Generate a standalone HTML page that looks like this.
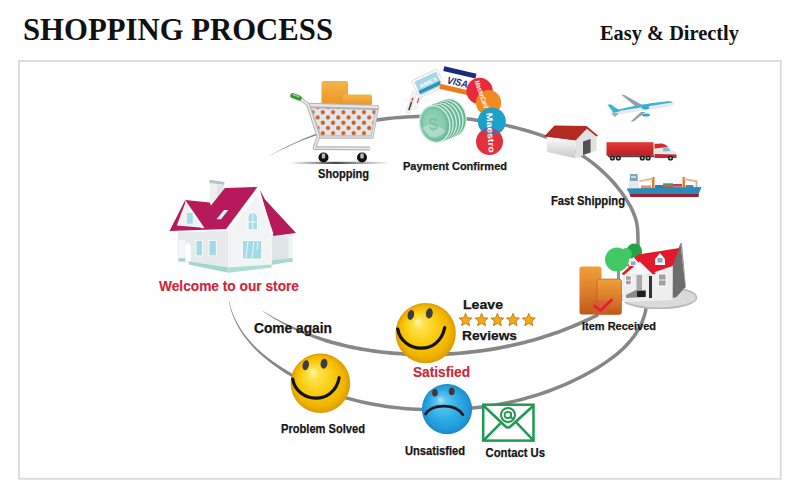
<!DOCTYPE html>
<html><head><meta charset="utf-8">
<style>
html,body{margin:0;padding:0;background:#fff;width:800px;height:482px;overflow:hidden}
svg{position:absolute;left:0;top:0}
.t{font-family:"Liberation Sans",sans-serif;font-weight:700}
.s{font-family:"Liberation Serif",serif;font-weight:700}
</style></head><body>
<svg width="800" height="482" viewBox="0 0 800 482">
<defs>
<radialGradient id="gy" cx="0.5" cy="0.5" r="0.5" fx="0.36" fy="0.3">
<stop offset="0" stop-color="#fff6b8"/>
<stop offset="0.18" stop-color="#ffe24a"/>
<stop offset="0.55" stop-color="#f9cb0e"/>
<stop offset="0.85" stop-color="#f0b300"/>
<stop offset="1" stop-color="#dd9a00"/>
</radialGradient>
<radialGradient id="gb" cx="0.5" cy="0.5" r="0.5" fx="0.36" fy="0.3">
<stop offset="0" stop-color="#a8e4fa"/>
<stop offset="0.2" stop-color="#5cc4f0"/>
<stop offset="0.6" stop-color="#2eabe6"/>
<stop offset="0.9" stop-color="#1e98d4"/>
<stop offset="1" stop-color="#1588c2"/>
</radialGradient>
<path id="star" d="M0.00,-6.80 L1.82,-2.51 L6.47,-2.10 L2.95,0.96 L4.00,5.50 L0.00,3.10 L-4.00,5.50 L-2.95,0.96 L-6.47,-2.10 L-1.82,-2.51Z" stroke-linejoin="round"/>
<linearGradient id="gbox" x1="0" y1="0" x2="0" y2="1">
<stop offset="0" stop-color="#f6b54a"/><stop offset="1" stop-color="#e99522"/>
</linearGradient>
<linearGradient id="gshadow" x1="0" y1="0" x2="1" y2="0">
<stop offset="0" stop-color="#444" stop-opacity="0"/><stop offset="0.45" stop-color="#333" stop-opacity="0.9"/><stop offset="1" stop-color="#444" stop-opacity="0"/>
</linearGradient>
<pattern id="mesh" x="320.2" y="109.6" width="10.3" height="10.5" patternUnits="userSpaceOnUse">
<rect width="10.3" height="10.5" fill="#e6e6ea"/>
<circle cx="2.6" cy="2.6" r="2.1" fill="#c3632c"/>
<circle cx="7.75" cy="7.85" r="2.1" fill="#c3632c"/>
</pattern>
<linearGradient id="gwall" x1="0" y1="0" x2="0" y2="1">
<stop offset="0" stop-color="#ffffff"/><stop offset="1" stop-color="#c9c9c9"/>
</linearGradient>
<linearGradient id="gtrail" x1="0" y1="0" x2="0" y2="1">
<stop offset="0" stop-color="#e23a36"/><stop offset="1" stop-color="#b71f24"/>
</linearGradient>
<radialGradient id="gcoin" cx="0.45" cy="0.45" r="0.6">
<stop offset="0" stop-color="#9ad8bc"/><stop offset="0.7" stop-color="#80c9a9"/><stop offset="1" stop-color="#64ad8e"/>
</radialGradient>
<clipPath id="cpMred"><circle cx="489.5" cy="141.5" r="13.5"/></clipPath>
<linearGradient id="gbox2" x1="0" y1="0" x2="0" y2="1">
<stop offset="0" stop-color="#efa038"/><stop offset="0.6" stop-color="#d8782a"/><stop offset="1" stop-color="#bf5818"/>
</linearGradient>
<g id="smile">
<circle r="29.8" fill="url(#gy)"/>
<ellipse cx="-14.7" cy="-18" rx="3.2" ry="5" fill="#3c3c44" transform="rotate(12 -14.7 -18)"/>
<ellipse cx="3.6" cy="-19.5" rx="3.4" ry="5" fill="#3c3c44" transform="rotate(8 3.6 -19.5)"/>
<path d="M-27.7,-4 C-23.5,19.5 13,23.5 18.8,-5.5" fill="none" stroke="#111" stroke-width="3.2" stroke-linecap="round"/>
</g>
</defs>
<rect x="0" y="0" width="800" height="482" fill="#fff"/>
<!-- frame -->
<rect x="19" y="61" width="761.8" height="417.8" fill="none" stroke="#dcdce0" stroke-width="1.9"/>
<!-- titles -->
<text class="s" x="23" y="39.5" font-size="30.5" fill="#111" textLength="310" lengthAdjust="spacingAndGlyphs">SHOPPING PROCESS</text>
<text class="s" x="600" y="39.5" font-size="20" fill="#111" textLength="139" lengthAdjust="spacingAndGlyphs">Easy &amp; Directly</text>

<!-- curves -->
<g id="curves">
<path fill="#878787" d="M270.6,155.5 275.8,152.6 281.1,149.9 286.5,147.4 291.9,144.9 297.3,142.6 302.8,140.3 308.3,138.2 313.8,136.3 319.4,134.4 325.1,132.7 330.7,131.0 336.4,129.5 342.1,128.1 347.8,126.8 353.6,125.6 359.4,124.5 365.2,123.5 370.9,122.5 376.8,121.7 382.6,120.9 388.4,120.2 394.3,119.6 400.1,119.2 406.0,118.8 411.9,118.5 417.8,118.3 423.7,118.3 429.6,118.3 435.5,118.4 441.4,118.6 447.3,118.9 453.2,119.3 459.0,119.8 464.9,120.4 470.8,121.1 476.6,121.9 482.5,122.8 488.3,123.7 494.1,124.8 499.9,125.9 505.6,127.1 511.4,128.4 517.1,129.8 522.8,131.4 528.4,133.0 534.0,134.7 539.5,136.6 545.0,138.6 550.4,140.7 555.7,143.0 561.0,145.5 566.2,148.1 571.3,150.9 576.3,153.8 581.3,156.9 586.1,160.3 590.9,163.8 595.5,167.5 599.9,171.4 604.3,175.4 608.4,179.6 612.4,183.9 616.2,188.4 619.8,193.0 623.1,197.8 626.2,202.7 629.1,207.6 631.5,212.7 633.5,217.9 635.0,223.2 635.8,228.7 636.1,234.4 636.2,240.2 636.3,246.3 636.7,252.4 637.5,258.6 638.7,264.7 640.2,270.7 641.7,276.7 643.1,282.6 644.2,288.3 644.9,294.0 645.1,299.6 644.8,305.1 643.9,310.5 642.5,315.7 640.6,320.9 638.3,325.9 635.6,330.7 632.4,335.4 629.0,339.8 625.1,344.1 621.0,348.2 616.6,352.0 612.0,355.7 607.2,359.3 602.2,362.7 597.0,365.9 591.8,369.0 586.6,371.9 581.3,374.8 576.0,377.5 570.6,380.0 565.2,382.5 559.8,384.8 554.3,387.0 548.9,389.1 543.4,391.1 537.8,392.9 532.3,394.6 526.7,396.3 521.1,397.8 515.4,399.2 509.8,400.5 504.1,401.6 498.4,402.7 492.7,403.7 486.9,404.6 481.1,405.3 475.3,406.0 469.5,406.6 463.7,407.0 457.8,407.4 452.0,407.7 446.1,407.9 440.2,408.0 434.3,408.1 428.3,408.0 422.4,407.8 416.5,407.5 410.6,407.2 404.6,406.7 398.7,406.2 392.8,405.5 386.9,404.7 381.1,403.8 375.2,402.8 369.4,401.7 363.6,400.5 357.8,399.2 352.1,397.8 346.4,396.2 340.8,394.5 335.2,392.7 329.7,390.8 324.2,388.7 318.7,386.5 313.4,384.2 308.1,381.8 302.8,379.2 297.6,376.5 292.5,373.7 287.4,370.8 282.5,367.8 277.5,364.5 272.7,361.2 268.0,357.7 263.4,354.0 259.0,350.2 254.8,346.2 250.8,342.0 247.0,337.6 243.4,332.9 240.2,328.1 237.3,323.1 234.7,317.8 232.4,312.2 230.6,306.4 229.1,300.4 228.7,300.5 230.0,306.6 231.7,312.5 233.8,318.1 236.3,323.6 239.1,328.8 242.3,333.8 245.7,338.5 249.5,343.1 253.4,347.5 257.6,351.7 262.0,355.7 266.5,359.6 271.2,363.3 276.0,366.8 280.9,370.2 285.8,373.4 290.9,376.5 296.0,379.5 301.2,382.3 306.6,384.9 311.9,387.4 317.4,389.8 322.9,392.0 328.5,394.1 334.1,396.0 339.8,397.8 345.5,399.6 351.2,401.1 357.0,402.6 362.8,403.9 368.7,405.2 374.6,406.3 380.5,407.3 386.4,408.2 392.4,409.0 398.4,409.6 404.3,410.2 410.3,410.7 416.3,411.0 422.3,411.3 428.3,411.5 434.3,411.6 440.2,411.5 446.2,411.4 452.1,411.2 458.0,410.9 463.9,410.5 469.8,410.1 475.7,409.5 481.6,408.8 487.4,408.0 493.2,407.1 499.0,406.2 504.8,405.1 510.5,403.9 516.2,402.6 521.9,401.2 527.6,399.6 533.3,398.0 538.9,396.2 544.5,394.4 550.1,392.4 555.6,390.3 561.1,388.0 566.6,385.7 572.1,383.2 577.5,380.6 582.9,377.9 588.3,375.0 593.6,372.0 598.9,368.9 604.1,365.6 609.2,362.1 614.1,358.5 618.9,354.7 623.4,350.7 627.7,346.5 631.6,342.1 635.3,337.4 638.6,332.5 641.4,327.5 643.9,322.2 645.8,316.8 647.3,311.2 648.2,305.5 648.6,299.6 648.4,293.7 647.6,287.8 646.5,281.8 645.1,275.8 643.6,269.9 642.2,263.9 641.0,258.0 640.1,252.1 639.8,246.1 639.7,240.2 639.6,234.2 639.3,228.3 638.4,222.5 636.9,216.8 634.7,211.3 632.2,206.0 629.2,200.9 626.0,195.8 622.6,191.0 618.9,186.2 615.1,181.6 611.0,177.2 606.7,172.9 602.3,168.8 597.7,164.8 593.0,161.0 588.1,157.4 583.2,154.0 578.2,150.8 573.0,147.8 567.8,145.0 562.5,142.3 557.1,139.8 551.7,137.5 546.2,135.3 540.7,133.3 535.0,131.4 529.4,129.6 523.7,128.0 518.0,126.5 512.2,125.0 506.4,123.7 500.6,122.5 494.7,121.3 488.9,120.3 483.0,119.3 477.1,118.4 471.2,117.6 465.3,116.9 459.4,116.3 453.4,115.8 447.5,115.4 441.5,115.1 435.6,114.9 429.6,114.8 423.7,114.8 417.7,114.8 411.8,115.0 405.8,115.3 399.9,115.7 394.0,116.2 388.0,116.7 382.1,117.4 376.3,118.2 370.4,119.1 364.5,120.1 358.7,121.3 352.9,122.6 347.2,124.1 341.5,125.6 335.8,127.2 330.1,129.0 324.5,130.8 318.9,132.8 313.3,134.8 307.8,137.0 302.3,139.3 296.9,141.7 291.5,144.2 286.2,146.8 280.9,149.5 275.6,152.3 270.4,155.2Z"/>
<path fill="#878787" d="M263.2,311.7 266.9,314.1 270.7,316.5 274.5,318.9 278.3,321.1 282.1,323.3 286.0,325.4 290.0,327.5 293.9,329.4 297.9,331.3 301.9,333.2 306.0,334.9 310.1,336.6 314.2,338.2 318.3,339.8 322.5,341.3 326.7,342.7 330.9,343.9 335.2,345.1 339.5,346.2 343.8,347.3 348.1,348.3 352.4,349.2 356.8,350.1 361.1,350.9 365.5,351.6 369.9,352.3 374.3,353.0 378.7,353.5 383.1,354.1 387.5,354.5 392.0,354.9 396.4,355.3 400.9,355.6 405.3,355.9 409.8,356.1 414.3,356.2 418.7,356.3 423.2,356.4 427.6,356.4 432.1,356.3 436.6,356.2 441.0,356.1 445.5,355.9 450.0,355.7 454.4,355.4 458.9,355.1 463.3,354.7 467.8,354.3 472.2,353.8 476.6,353.3 481.0,352.7 485.5,352.1 489.9,351.4 494.3,350.7 498.6,349.9 503.0,349.1 507.4,348.2 511.7,347.3 516.1,346.3 520.4,345.3 524.7,344.2 529.0,343.1 533.3,341.9 537.5,340.7 541.8,339.5 546.0,338.1 550.2,336.8 554.4,335.3 558.6,333.9 562.7,332.3 566.8,330.8 570.9,329.1 575.0,327.4 579.1,325.7 583.1,323.9 587.1,322.1 591.1,320.2 595.0,318.2 599.0,316.3 597.3,313.0 593.4,314.9 589.5,316.9 585.5,318.7 581.6,320.5 577.6,322.3 573.6,324.0 569.5,325.7 565.5,327.3 561.4,328.9 557.3,330.4 553.2,331.8 549.0,333.2 544.9,334.6 540.7,335.9 536.5,337.2 532.3,338.4 528.0,339.5 523.8,340.7 519.5,341.7 515.2,342.7 510.9,343.7 506.6,344.6 502.3,345.5 498.0,346.3 493.6,347.0 489.3,347.7 484.9,348.4 480.6,349.0 476.2,349.6 471.8,350.1 467.4,350.6 463.0,351.0 458.6,351.4 454.2,351.7 449.8,352.0 445.3,352.2 440.9,352.4 436.5,352.5 432.1,352.6 427.6,352.7 423.2,352.7 418.8,352.6 414.4,352.5 409.9,352.4 405.5,352.2 401.1,351.9 396.7,351.6 392.3,351.2 387.9,350.8 383.5,350.4 379.2,349.9 374.8,349.3 370.4,348.7 366.1,348.0 361.8,347.2 357.5,346.4 353.2,345.6 348.9,344.7 344.6,343.7 340.4,342.6 336.2,341.5 332.0,340.4 327.8,339.1 323.6,337.9 319.4,336.6 315.2,335.3 311.1,333.9 307.0,332.4 302.9,330.9 298.8,329.3 294.8,327.6 290.8,325.8 286.8,324.0 282.8,322.0 278.9,320.1 275.0,318.0 271.1,315.8 267.2,313.6 263.4,311.3Z"/>
</g>



<!-- cart -->
<g id="cart">
<rect x="290" y="161.8" width="100" height="2.2" fill="url(#gshadow)"/>
<rect x="321.5" y="81" width="26.5" height="24" rx="2" fill="url(#gbox)"/>
<rect x="343" y="94.5" width="29" height="11" rx="2" fill="url(#gbox)"/>
<path d="M309,106 L376.5,108.5 L371.5,136.5 L320,136.5 Z" fill="url(#mesh)"/>
<path d="M308,104.5 L377.5,107 L372,137 L320,137 Z" fill="none" stroke="#bcbcbc" stroke-width="3.4" stroke-linejoin="round"/>
<path d="M308,104.5 L377.5,107 L372,137 L320,137 Z" fill="none" stroke="#e8e8e8" stroke-width="1.2" stroke-linejoin="round"/>
<path d="M307,105.5 L378,107.5" fill="none" stroke="#b0b0b4" stroke-width="5"/>
<path d="M307,105 L378,107" fill="none" stroke="#e4e4e8" stroke-width="2.4"/>
<path d="M300,98.5 L308,104.5 L318.5,136.5 L314.5,148 L370,148.5" fill="none" stroke="#b4b4b4" stroke-width="3.8" stroke-linejoin="round"/>
<path d="M300,98.5 L308,104.5 L318.5,136.5 L314.5,148 L370,148.5" fill="none" stroke="#ececec" stroke-width="1.6" stroke-linejoin="round"/>
<rect x="290" y="94.3" width="12" height="5.2" rx="2.6" transform="rotate(21 296 96.9)" fill="#369836"/>
<rect x="291.5" y="95" width="8" height="1.5" rx="0.7" transform="rotate(21 296 96.9)" fill="#8fd08f"/>
<circle cx="323.5" cy="157.5" r="5" fill="#111"/>
<rect x="321.8" y="153.5" width="3.4" height="5" rx="1" fill="#bbb"/>
<circle cx="362" cy="157.5" r="5" fill="#111"/>
<rect x="360.3" y="153.5" width="3.4" height="5" rx="1" fill="#bbb"/>
</g>

<!-- welcome house -->
<g id="house1">
<path d="M272,236 L290,236 L290,258.8 L272,260.5 Z" fill="#e0e5e7"/>
<path d="M271.6,260.2 L290,258.5 L290,261.7 L271.6,265 Z" fill="#a6d9d1"/>
<path d="M288.5,233 L292.5,233 L292.5,259 L288.5,259 Z" fill="#f0f2f3"/>
<path d="M288.5,258 L292.5,258 L292.5,262 L288.5,262 Z" fill="#a6d9d1"/>
<path d="M178,232 L228.5,231 L228.5,267.8 L188.7,261.8 L178,261 Z" fill="#e6eaec"/>
<path d="M188.7,261.5 L228.5,267.5 L228.5,272.8 L188.7,264.6 Z" fill="#a3d6ce"/>
<path d="M178.8,240 L185.5,240 L185.5,258.5 L178.8,258.5 Z" fill="#f4f6f7"/>
<path d="M178.8,258.3 L185.5,258.3 L185.7,261.6 L178.6,261.6 Z" fill="#a3d6ce"/>
<path d="M185.5,261 L185.5,246 Q188,239 190.7,246 L190.7,261 Z" fill="#ffffff"/>
<path d="M257.8,192 L228.5,231 L228.5,267.8 L271.6,264.8 L272,234 Z" fill="#f1f3f4"/>
<path d="M228.5,267.5 L271.6,264.5 L271.6,267.6 L228.5,272.8 Z" fill="#acddd5"/>
<path d="M209.7,183 L217.3,183 L217.3,205 L209.7,207 Z" fill="#eef1f2"/>
<path d="M217,183 L224,184 L224,195 L217,201 Z" fill="#dfe5e8"/>
<path d="M209.5,179.7 L224.5,182 L224.2,184.5 L209.5,183 Z" fill="#b9c2c6"/>
<path d="M169.5,231 L185.2,200 L209.7,202.5 L211,205.5 L224.9,188.1 L258,187 L226.6,229 Z" fill="#b71a5b"/>
<path d="M176.8,225.6 L185.2,203 L203,227.8 Z" fill="#eef2f3"/>
<path d="M185.2,200 L204.5,228 L201.5,228.3 L185.2,205 Z" fill="#f8fafa"/>
<path d="M187,213 L192.8,213 L192.8,223.6 L187,223.6 Z" fill="#a7dbe6"/>
<path d="M216.5,219.3 L224,210 L228.3,210 L221,219.3 Z" fill="#d9f0f4"/>
<path d="M260,190 L265,199.5 L296,233 L273.5,236 L272,233 Z" fill="#b71a5b"/>
<path d="M257.8,186.5 L273.5,234 L270.5,234.5 L257.8,195 L228,232 L225,230.5 Z" fill="#f8fafa"/>
<path d="M248,230 L248,216 Q252.8,208 257.5,216 L257.5,230 Z" fill="#a7dbe6" stroke="#fff" stroke-width="1"/>
<path d="M252.8,211 L252.8,230 M248,222 L257.5,222" stroke="#fff" stroke-width="0.8"/>
<rect x="242.3" y="240.4" width="19.5" height="18.7" fill="#a3dae6" stroke="#fff" stroke-width="1"/>
<path d="M248,241 L246,258 M254,241 L252,258 M258,241 L257,250" stroke="#d8f2f6" stroke-width="1.2"/>
<rect x="196" y="240.4" width="6.5" height="15.5" fill="#a3dae6" stroke="#fff" stroke-width="0.8"/>
<rect x="209" y="240.4" width="7.3" height="15.5" fill="#a3dae6" stroke="#fff" stroke-width="0.8"/>
</g>

<!-- warehouse -->
<g id="warehouse">
<path d="M546.5,135.5 L575.5,139.5 L575.5,158.2 L547.2,152 Z" fill="url(#gwall)"/>
<path d="M575.5,139.5 L586.8,128 L596.5,135 L596.5,150.5 L575.5,158.2 Z" fill="#e2e2e2"/>
<path d="M583,141.4 L590.6,139 L590.6,152.4 L583,155 Z" fill="#525252"/>
<path d="M544.5,136 L554.5,125.5 L586.5,126 L598,135.5 L596.5,136.5 L586.5,128.5 L575.5,140 Z" fill="#b52a22"/>
<path d="M544.5,136 L575.5,140 L586.5,128.5" fill="none" stroke="#8e1c16" stroke-width="0.8"/>
</g>
<!-- plane -->
<g id="plane">
<path d="M621,94.5 L624.5,95 L643,105.5 L637.5,108 Z" fill="#979fa6"/>
<path d="M610,111.5 Q640,104.5 668,101.5 Q675,101 674.5,103.5 Q672,106.5 660,108 L618,114.5 Q611,115 610,111.5 Z" fill="#e4eaef"/>
<path d="M617,109.8 Q640,104 668,101.2 Q673,101 672,102.6 L620,110.8 Z" fill="#3cb3d1"/>
<path d="M607.5,104.5 L611,104.5 L620.5,111 L613.5,113 Z" fill="#3cb3d1"/>
<path d="M611,113.5 L619,113 L615,117 Z" fill="#9aa8b0"/>
<path d="M641,112 L645.5,112 L633.5,121.5 L630.5,121.5 Z" fill="#979fa6"/>
<ellipse cx="645.5" cy="107.6" rx="3.8" ry="1.9" fill="#2fa9cf"/>
<ellipse cx="646" cy="115" rx="4" ry="1.6" fill="#2fa9cf"/>
</g>
<!-- truck -->
<g id="truck">
<rect x="606.5" y="142.2" width="47" height="13.5" fill="url(#gtrail)"/>
<rect x="608" y="155.4" width="46" height="1.8" fill="#444"/>
<path d="M654.5,144 L662,143.5 Q668,144 671,150 L676,152 L676.5,157.5 L654.5,157.5 Z" fill="#e8e8ea"/>
<path d="M654.5,144 L662,143.5 Q666,144 668,147 L654.5,148.5 Z" fill="#d22b2b"/>
<path d="M654.5,154 L676.5,154.5 L676.5,158 L654.5,158 Z" fill="#c9252a"/>
<path d="M663,148 L668,147.5 L670.5,151 L663,151.5 Z" fill="#8ab8d8"/>
<g fill="#222"><circle cx="612.4" cy="158" r="2.6"/><circle cx="618.3" cy="158" r="2.6"/><circle cx="642.3" cy="158" r="2.6"/><circle cx="648.1" cy="158" r="2.6"/><circle cx="670.5" cy="158" r="2.6"/></g>
<g fill="#ccc"><circle cx="612.4" cy="158" r="1"/><circle cx="618.3" cy="158" r="1"/><circle cx="642.3" cy="158" r="1"/><circle cx="648.1" cy="158" r="1"/><circle cx="670.5" cy="158" r="1"/></g>
</g>
<!-- ship -->
<g id="ship">
<path d="M630,174 L637.5,174 L638.5,189 L629.5,189 Z" fill="#7fa8b6"/>
<path d="M629.5,181 L638.5,181 L638.5,189 L629.5,189 Z" fill="#e8e8e8"/>
<rect x="631" y="176" width="5" height="2" fill="#c8dce4"/>
<path d="M652,177 L654.5,177 L654.5,189 L652,189 Z" fill="#e07a32"/>
<path d="M639,180.5 L653,177.5 L653,179.5 L639.5,182 Z" fill="#e9b690"/>
<path d="M682.5,177 L685,177 L685,189 L682.5,189 Z" fill="#e07a32"/>
<path d="M684,178 L697.5,180.5 L697,182.5 L684,180 Z" fill="#e9b690"/>
<path d="M695.5,181 L697.5,181 L697.5,189 L695.5,189 Z" fill="#b9b9b9"/>
<rect x="641" y="185.5" width="10" height="3.5" fill="#e3935a"/>
<rect x="655" y="185" width="8" height="4" fill="#3a78b8"/>
<rect x="663" y="183.3" width="10" height="2.6" fill="#3a9a78"/>
<rect x="663" y="185.9" width="10" height="3.1" fill="#d2502e"/>
<rect x="673" y="184" width="9" height="2.5" fill="#b84060"/>
<rect x="673" y="186.5" width="9" height="2.5" fill="#e0603a"/>
<rect x="685.5" y="185" width="8" height="4" fill="#4a88c0"/>
<path d="M626.5,188.5 L701.5,187 L698.5,194.5 L630,194.5 Z" fill="#2a8bbb"/>
<path d="M629.5,194 L699,194 L698.5,197 L630.5,197 Z" fill="#9c2030"/>
</g>

<!-- payment -->
<g id="payment">
<g transform="translate(3 2.5) rotate(-72 408 100)"><rect x="397" y="98" width="22" height="4.5" fill="#f4f4f4" stroke="#ddd" stroke-width="0.5"/><rect x="400" y="99.5" width="9" height="1.6" fill="#444"/><rect x="410" y="99.5" width="3" height="1.6" fill="#d44"/></g>
<g transform="translate(10 1) rotate(-72 408 100)"><rect x="400" y="98.5" width="14" height="3" fill="#f6f6f6" stroke="#e2e2e2" stroke-width="0.4"/><rect x="406" y="99.3" width="5" height="1.3" fill="#e05050"/></g>
<g transform="translate(1.5 1) rotate(-25 427 83)">
<rect x="413" y="73" width="28" height="19" rx="1.5" fill="#fff" stroke="#cfd8dc" stroke-width="0.8"/>
<rect x="415" y="75" width="24" height="15" fill="#a7d6e6"/>
<rect x="415" y="85" width="24" height="3.5" fill="#2b96bd"/>
<text x="418" y="83.5" font-family="Liberation Sans" font-weight="700" font-size="5.5" fill="#fff" textLength="19" lengthAdjust="spacingAndGlyphs">AMEX</text>
</g>
<g transform="translate(1 2.5) rotate(13 456 80)">
<rect x="440" y="67" width="33" height="24" fill="#fff"/>
<rect x="440" y="67" width="33" height="5" fill="#1b2c7a"/>
<rect x="440" y="85" width="33" height="5" fill="#ee7c1c"/>
<text x="446" y="83" font-family="Liberation Sans" font-weight="700" font-style="italic" font-size="10" fill="#1b2c7a" textLength="21" lengthAdjust="spacingAndGlyphs">VISA</text>
</g>
<circle cx="479.6" cy="91" r="13.2" fill="#e82a3a"/>
<circle cx="488.5" cy="102.7" r="12.6" fill="#f18a22"/>
<path d="M479.6,91 m0,0" />
<text transform="translate(474.5 81.5) rotate(70)" font-family="Liberation Sans" font-weight="700" font-style="italic" font-size="7" fill="#fff" textLength="29" lengthAdjust="spacingAndGlyphs">MasterCard</text>
<circle cx="491.8" cy="121.4" r="14" fill="#1ea1c9"/>
<circle cx="489.5" cy="141.5" r="13.5" fill="#e2303d"/>
<circle cx="491.8" cy="121.4" r="14" fill="#7b5a8c" clip-path="url(#cpMred)"/>
<text transform="translate(486.2 113) rotate(86)" font-family="Liberation Sans" font-weight="700" font-size="8.5" fill="#fff" textLength="40" lengthAdjust="spacingAndGlyphs">Maestro</text>
<!-- coins -->
<g stroke-width="1.6">
<ellipse cx="451.2" cy="117.5" rx="14.6" ry="18.3" transform="rotate(-14 451.2 117.5)" fill="#78c4a4" stroke="#d4f0e3"/>
<ellipse cx="450.0" cy="118.0" rx="14.8" ry="18.4" transform="rotate(-14 450.0 118.0)" fill="none" stroke="#5fa98b" stroke-width="1"/>
<ellipse cx="447.9" cy="118.8" rx="14.6" ry="18.3" transform="rotate(-14 447.9 118.8)" fill="#78c4a4" stroke="#d4f0e3"/>
<ellipse cx="446.7" cy="119.3" rx="14.8" ry="18.4" transform="rotate(-14 446.7 119.3)" fill="none" stroke="#5fa98b" stroke-width="1"/>
<ellipse cx="444.6" cy="120.1" rx="14.6" ry="18.3" transform="rotate(-14 444.6 120.1)" fill="#78c4a4" stroke="#d4f0e3"/>
<ellipse cx="443.4" cy="120.6" rx="14.8" ry="18.4" transform="rotate(-14 443.4 120.6)" fill="none" stroke="#5fa98b" stroke-width="1"/>
<ellipse cx="441.3" cy="121.4" rx="14.6" ry="18.3" transform="rotate(-14 441.3 121.4)" fill="#78c4a4" stroke="#d4f0e3"/>
<ellipse cx="440.1" cy="121.9" rx="14.8" ry="18.4" transform="rotate(-14 440.1 121.9)" fill="none" stroke="#5fa98b" stroke-width="1"/>
<ellipse cx="438.0" cy="122.7" rx="14.6" ry="18.3" transform="rotate(-14 438.0 122.7)" fill="#78c4a4" stroke="#d4f0e3"/>
<ellipse cx="436.8" cy="123.2" rx="14.8" ry="18.4" transform="rotate(-14 436.8 123.2)" fill="none" stroke="#5fa98b" stroke-width="1"/>
</g>
<ellipse cx="434.7" cy="124" rx="15" ry="18.5" transform="rotate(-14 434.7 124)" fill="url(#gcoin)" stroke="#cdeee0" stroke-width="1.4"/>
<ellipse cx="434.7" cy="124" rx="12.5" ry="16" transform="rotate(-14 434.7 124)" fill="none" stroke="#68b294" stroke-width="0.8" opacity="0.7"/>
<path d="M422,128 Q432,121 446,131 Q440,138 430,137 Z" fill="#c6e8da" opacity="0.6"/>
<text x="428.5" y="130" font-family="Liberation Sans" font-weight="700" font-size="17" fill="#62ad8e" opacity="0.45">$</text>
</g>

<!-- item received -->
<g id="item">
<ellipse cx="659" cy="297.5" rx="37.5" ry="10.8" fill="#dadada" stroke="#b9b9b9" stroke-width="1.6"/>
<rect x="617" y="262" width="3" height="17" fill="#8a9a92"/>
<circle cx="634.3" cy="251.3" r="7.8" fill="#1fa545"/>
<circle cx="617" cy="259.5" r="12" fill="#42c865"/><circle cx="626" cy="254" r="6" fill="#42c865"/>
<path d="M672.5,265 L680.5,243 L685.5,287 L676.5,297 L672.5,298 Z" fill="#6d6d6d"/>
<path d="M680.5,243 L682,243 L686,288 L685.5,288 Z" fill="#999"/>
<path d="M622.5,272 L672.5,265 L672.5,300 L622.5,302 Z" fill="#eeeeee"/>
<path d="M627,266 L638,254.5 L679.5,248 L672.5,266 L652,273 Z" fill="#e3192b"/>
<path d="M623,273.5 L639.5,258.5 L655,273.5 Z" fill="#f6f6f6"/>
<path d="M621.5,274 L639.5,257 L656,273.5 L653,274.5 L639.5,261.5 L624,275 Z" fill="#e3192b"/>
<path d="M629,262 L633.5,257 L638,262 L638,266 L629,266 Z" fill="#f5f5f5"/>
<rect x="631" y="261.5" width="4.5" height="3.5" fill="#8aa8c0"/>
<path d="M655,259 L660,253 L665,259 L665,265 L655,265 Z" fill="#f5f5f5"/>
<rect x="657.5" y="258" width="5" height="4.5" fill="#8aa8c0"/>
<rect x="625.5" y="275.8" width="5.8" height="9" fill="#a0a0a0" stroke="#fff" stroke-width="1"/><path d="M625.5,280.3 L631.3,280.3" stroke="#fff" stroke-width="0.8"/>
<rect x="658.3" y="274" width="7.8" height="12" fill="#a0a0a0" stroke="#fff" stroke-width="1"/><path d="M658.3,280 L666.1,280" stroke="#fff" stroke-width="0.8"/>
<rect x="636.5" y="275" width="5.5" height="15" fill="#a8a8a8"/>
<rect x="649" y="276" width="3" height="22" fill="#333"/>
<path d="M626,295 L636,290 L646,290 L646,297 L626,298 Z" fill="#8a8a8a"/>
<rect x="637" y="291" width="8.5" height="6" rx="1" fill="#1e1e1e"/>
<rect x="579.5" y="266.5" width="22" height="48" rx="2.5" fill="url(#gbox2)"/>
<rect x="597" y="279" width="24.5" height="35.5" rx="2.5" fill="url(#gbox2)" stroke="#b9561a" stroke-width="0.6"/>
<rect x="592.5" y="300" width="15.5" height="14" fill="#d85a3a" opacity="0.55"/>
<path d="M594.5,306 L600.5,310.5 L611.5,300" fill="none" stroke="#e51e30" stroke-width="2.8" stroke-linecap="round" stroke-linejoin="round"/>
</g>
<!-- smileys -->
<use href="#smile" transform="translate(425.7 333.1) scale(1.012)"/>
<use href="#smile" x="320.4" y="383.2"/>
<!-- sad -->
<g>
<circle cx="447" cy="409.1" r="25.1" fill="url(#gb)"/>
<ellipse cx="434.9" cy="392.7" rx="2.8" ry="3.8" fill="#4a3430"/>
<ellipse cx="451.7" cy="391.4" rx="2.9" ry="3.8" fill="#4a3430"/>
<path d="M425.6,414.1 C432,404 455,403 462.9,414.7" fill="none" stroke="#1c1c1c" stroke-width="2.8" stroke-linecap="round"/>
</g>
<!-- envelope -->
<g fill="none" stroke="#1f9a52" stroke-width="2.5">
<rect x="483.2" y="404.7" width="50.3" height="35.9" fill="#fff"/>
<path d="M484,406 L505,426 Q508,429 511,426 L533,406"/>
<path d="M484,440 L500.4,423.4 M533,440 L516.3,422.4"/>
<circle cx="508" cy="415" r="7" fill="#fff" stroke-width="2"/>
<circle cx="507.8" cy="415" r="3.2" stroke-width="1.8"/>
<path d="M511,412 L511,417.5 Q512.5,419.5 514.5,417" stroke-width="1.6"/>
</g>
<!-- stars -->
<g fill="#f3a818" stroke="#c07a10" stroke-width="0.9">
<use href="#star" x="465.6" y="320.2"/>
<use href="#star" x="481.6" y="320.2"/>
<use href="#star" x="497.4" y="320.2"/>
<use href="#star" x="513.0" y="320.2"/>
<use href="#star" x="528.8" y="320.2"/>
</g>
<!-- labels -->
<g class="t" fill="#161616" stroke="#161616" stroke-width="0.25">
<text x="318" y="177.5" font-size="12" textLength="51" lengthAdjust="spacingAndGlyphs">Shopping</text>
<text x="403" y="170.2" font-size="11.5" textLength="104" lengthAdjust="spacingAndGlyphs">Payment Confirmed</text>
<text x="551" y="204.8" font-size="12" textLength="74" lengthAdjust="spacingAndGlyphs">Fast Shipping</text>
<text x="582" y="329.5" font-size="11.5" textLength="74" lengthAdjust="spacingAndGlyphs">Item Received</text>
<text x="254" y="333.4" font-size="14.6" textLength="78" lengthAdjust="spacingAndGlyphs">Come again</text>
<text x="463" y="308.5" font-size="12.5" textLength="40" lengthAdjust="spacingAndGlyphs">Leave</text>
<text x="462" y="339.5" font-size="13.5" textLength="55" lengthAdjust="spacingAndGlyphs">Reviews</text>
<text x="281" y="433.1" font-size="12.8" textLength="84" lengthAdjust="spacingAndGlyphs">Problem Solved</text>
<text x="405" y="455" font-size="12" textLength="60" lengthAdjust="spacingAndGlyphs">Unsatisfied</text>
<text x="485.5" y="457" font-size="12" textLength="59.5" lengthAdjust="spacingAndGlyphs">Contact Us</text>
</g>
<g class="t" fill="#cd2739" stroke="#cd2739" stroke-width="0.15">
<text x="159" y="290.6" font-size="14.6" textLength="140" lengthAdjust="spacingAndGlyphs">Welcome to our store</text>
<text x="413" y="377.4" font-size="14.6" textLength="57" lengthAdjust="spacingAndGlyphs">Satisfied</text>
</g>
</svg>
</body></html>
